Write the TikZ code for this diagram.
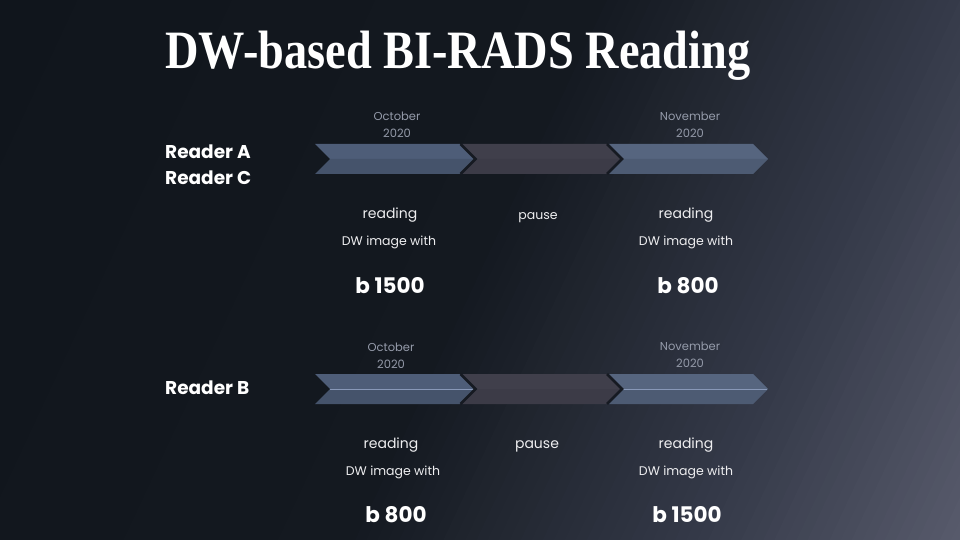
\documentclass[tikz,border=0pt]{standalone}
\usepackage{fontspec}
\setmainfont{Poppins}
\newfontfamily\titlefont{Liberation Serif}
\definecolor{bgA}{HTML}{10151C}
\definecolor{bgB}{HTML}{141920}
\definecolor{bgC}{HTML}{363B4A}
\definecolor{bgD}{HTML}{585B6C}
\definecolor{bluetopA}{HTML}{4E5D78}
\definecolor{bluebotA}{HTML}{45536B}
\definecolor{bluetopB}{HTML}{56657F}
\definecolor{bluebotB}{HTML}{4D5B73}
\definecolor{greytop}{HTML}{403F4B}
\definecolor{greybot}{HTML}{3C3B47}
\definecolor{shadowcol}{HTML}{161A22}
\definecolor{midline}{HTML}{8898B8}
\definecolor{datecol}{HTML}{959BAA}
\definecolor{txtcol}{HTML}{EEEEF0}
\newcommand\mychev[5]{%
  \fill[#3] ({#1},{#2-15}) -- ({#1+145},{#2-15}) -- ({#1+160},{#2}) -- ({#1+15},{#2}) -- cycle;
  \fill[#4] ({#1+15},{#2}) -- ({#1+160},{#2}) -- ({#1+145},{#2+15}) -- ({#1},{#2+15}) -- cycle;
  \ifnum#5=1 \draw[midline, line width=0.8pt] ({#1+15},{#2}) -- ({#1+159},{#2});\fi
}
\newcommand\mynotch[2]{%
  \draw[shadowcol, line width=2.5pt, line join=miter] ({#1-1},{#2-15}) -- ({#1+14},{#2}) -- ({#1-1},{#2+15});
}
\tikzset{
  datelbl/.style={text=datecol, font=\fontsize{11.5}{14}\selectfont, anchor=base, inner sep=0pt},
  readlbl/.style={text=txtcol, font=\fontsize{14}{16}\selectfont, anchor=base, inner sep=0pt},
  dwlbl/.style={text=txtcol, font=\fontsize{12.5}{15}\selectfont, anchor=base, inner sep=0pt},
  bvallbl/.style={text=white, font=\bfseries\fontsize{21.5}{24}\selectfont, anchor=base, inner sep=0pt},
  readerlbl/.style={text=white, font=\bfseries\fontsize{18.5}{20}\selectfont, anchor=base west, inner sep=0pt},
}
\begin{document}
\begin{tikzpicture}[x=1pt, y=-1pt]
\useasboundingbox (0,0) rectangle (960,540);
% background gradient
\begin{scope}
  \clip (0,0) rectangle (960,540);
  \foreach \i in {0,...,111} {
    \pgfmathsetmacro{\pa}{\i*10}
    \pgfmathsetmacro{\pb}{\pa+10.8}
    \pgfmathsetmacro{\pc}{\pa+5}
    \ifdim \pc pt < 540pt
      \pgfmathtruncatemacro{\m}{\pc/5.4}
      \def\cc{bgB!\m!bgA}
    \else
      \ifdim \pc pt < 870pt
        \pgfmathtruncatemacro{\m}{(\pc-540)/3.3}
        \def\cc{bgC!\m!bgB}
      \else
        \pgfmathtruncatemacro{\m}{min(100,(\pc-870)/2.3)}
        \def\cc{bgD!\m!bgC}
      \fi
    \fi
    \fill[color=\cc, rotate=-25] (\pa,-1500) rectangle (\pb,1500);
  }
\end{scope}
% title
\node[anchor=base west, inner sep=0pt, text=white] (title) at (165,69)
  {\scalebox{0.858}[1]{\titlefont\bfseries\fontsize{54}{60}\selectfont DW-based BI-RADS Reading}};
% row 1 chevrons
\mychev{315}{159}{bluetopA}{bluebotA}{0}
\mychev{461.5}{159}{greytop}{greybot}{0}
\mychev{608}{159}{bluetopB}{bluebotB}{0}
\mynotch{461.5}{159}
\mynotch{608}{159}
% row 2 chevrons
\mychev{315}{389}{bluetopA}{bluebotA}{1}
\mychev{461.5}{389}{greytop}{greybot}{0}
\mychev{608}{389}{bluetopB}{bluebotB}{1}
\mynotch{461.5}{389}
\mynotch{608}{389}
% readers
\node[readerlbl] (ra) at (165,159) {Reader A};
\node[readerlbl] (rc) at (165,184.5) {Reader C};
\node[readerlbl] (rb) at (165,394) {Reader B};
% row 1 texts
\node[datelbl] (oct1) at (397,121) {October};
\node[datelbl] (oct1y) at (397,138) {2020};
\node[datelbl] (nov1) at (690,121) {November};
\node[datelbl] (nov1y) at (690,138) {2020};
\node[readlbl] (rd1a) at (390,218.5) {reading};
\node[dwlbl] (dw1a) at (389,245) {DW image with};
\node[bvallbl] (b1a) at (390,293) {b 1500};
\node[dwlbl] (ps1) at (538,219) {pause};
\node[readlbl] (rd1b) at (686,218.5) {reading};
\node[dwlbl] (dw1b) at (686,245) {DW image with};
\node[bvallbl] (b1b) at (688,293) {b 800};
% row 2 texts
\node[datelbl] (oct2) at (391,351) {October};
\node[datelbl] (oct2y) at (391,368) {2020};
\node[datelbl] (nov2) at (690,350.5) {November};
\node[datelbl] (nov2y) at (690,367.5) {2020};
\node[readlbl] (rd2a) at (391,448.5) {reading};
\node[dwlbl] (dw2a) at (393,475) {DW image with};
\node[bvallbl] (b2a) at (396,522.5) {b 800};
\node[readlbl] (ps2) at (537,448.5) {pause};
\node[readlbl] (rd2b) at (686,448.5) {reading};
\node[dwlbl] (dw2b) at (686,475) {DW image with};
\node[bvallbl] (b2b) at (687,522.5) {b 1500};
\end{tikzpicture}
\end{document}
